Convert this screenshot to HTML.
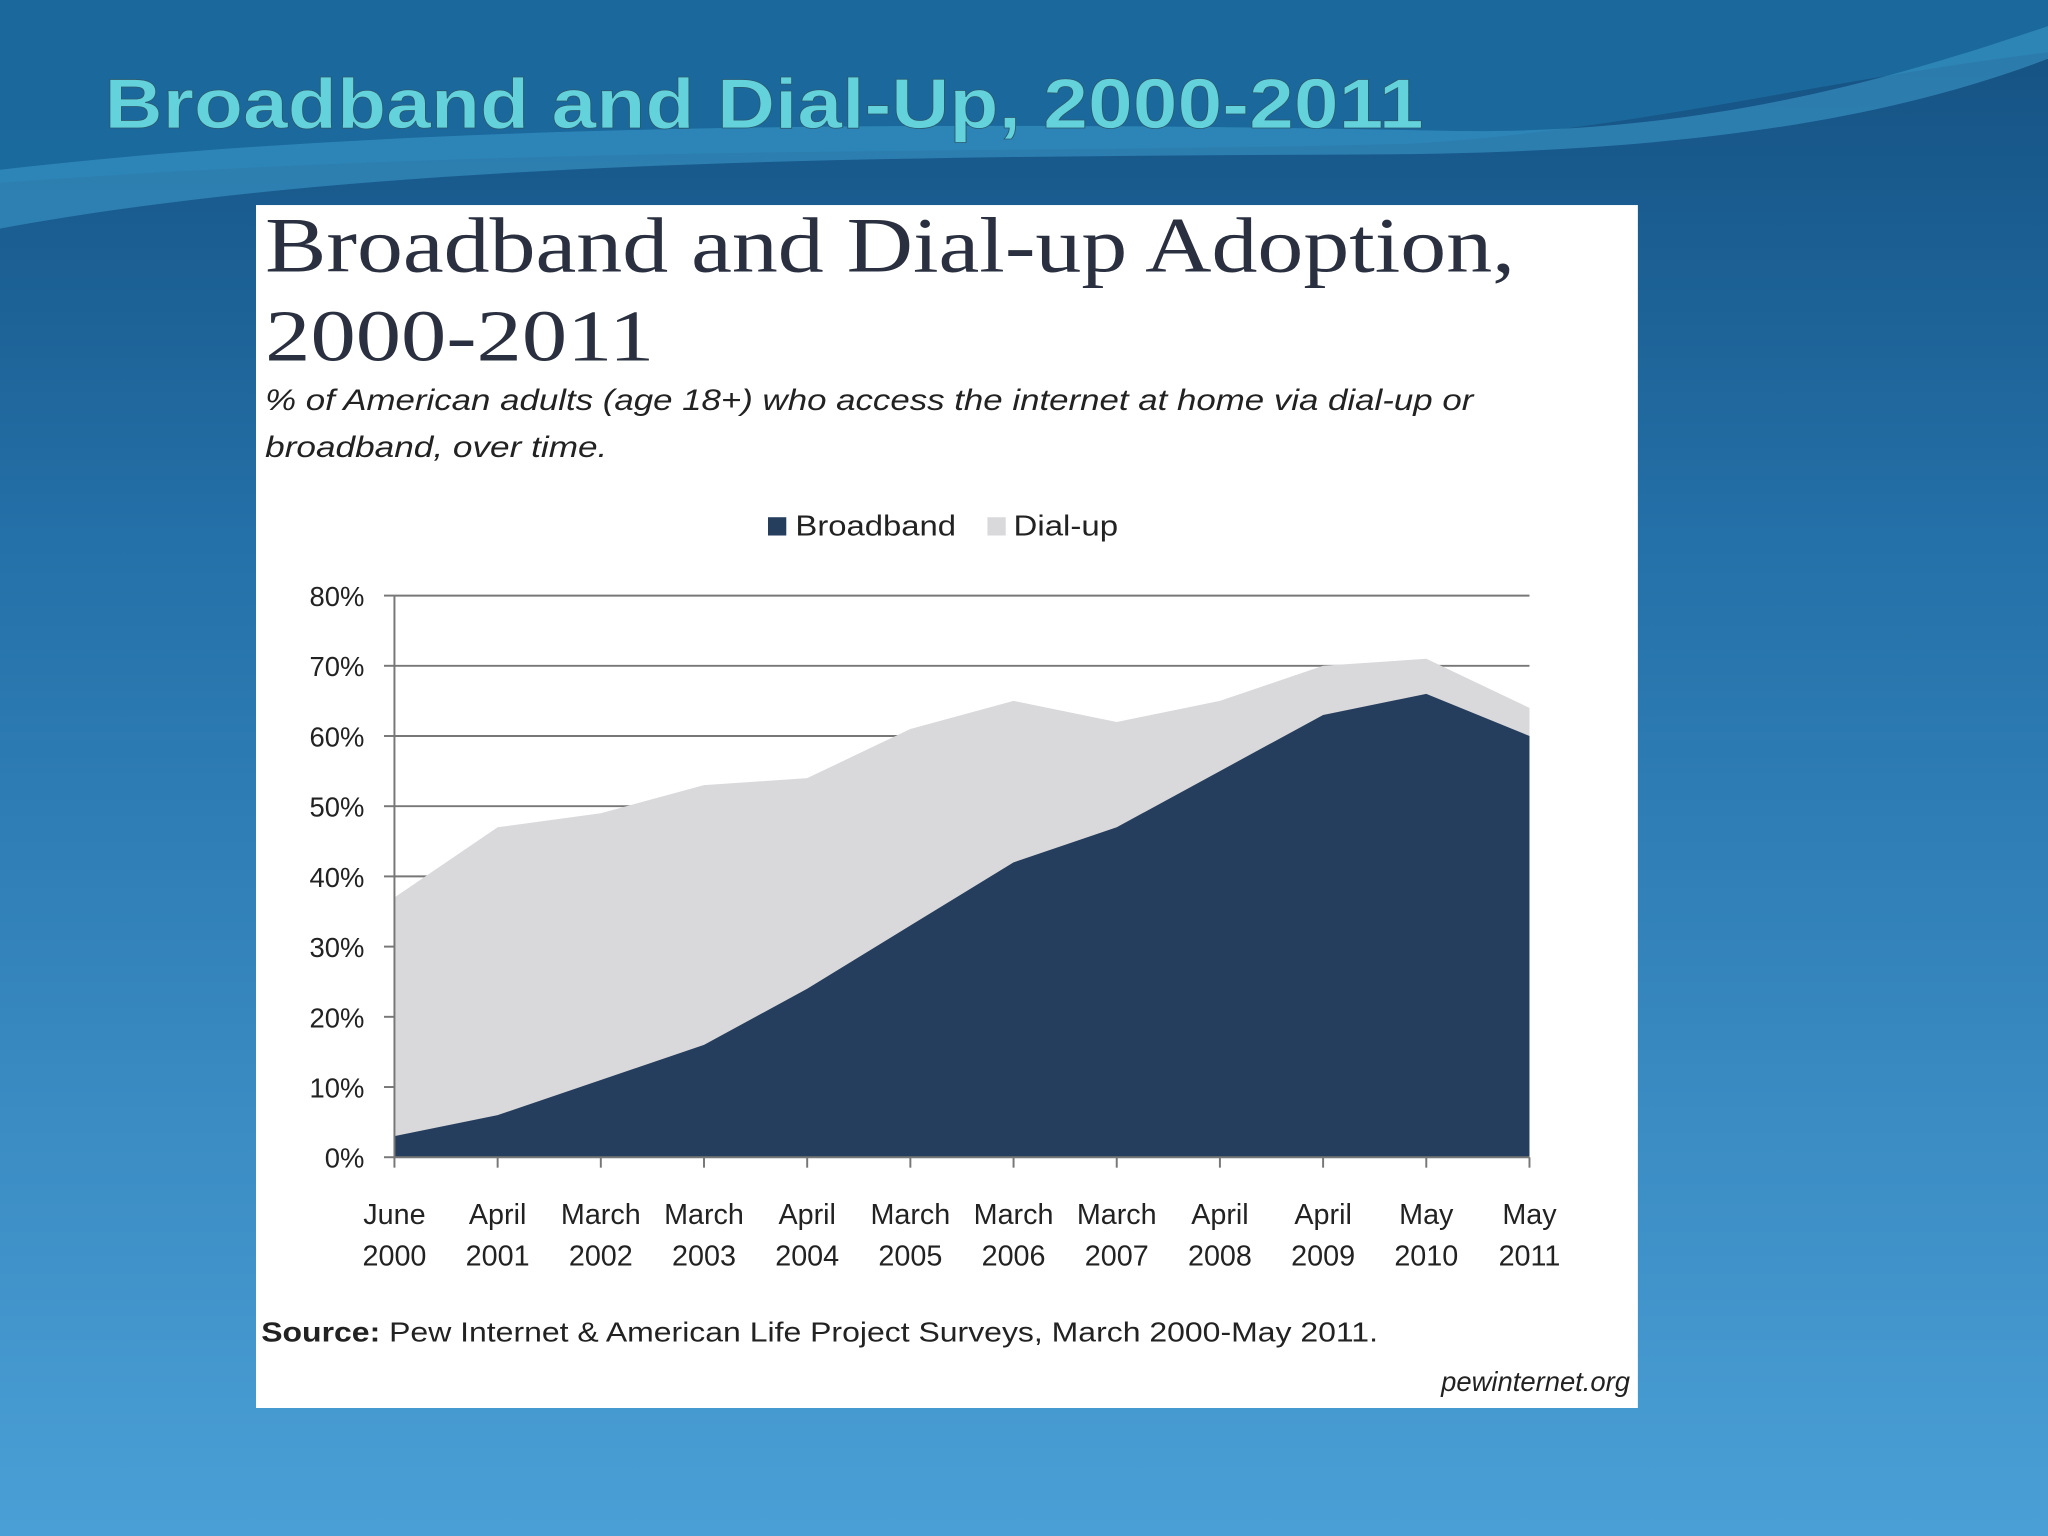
<!DOCTYPE html>
<html><head><meta charset="utf-8"><style>
html,body{margin:0;padding:0;background:#1d5f90;}
svg{display:block;}
</style></head><body>
<svg width="2048" height="1536" viewBox="0 0 1568 1176" xmlns="http://www.w3.org/2000/svg">
<defs>
<linearGradient id="bg" x1="0" y1="0" x2="0" y2="1">
<stop offset="0" stop-color="#145080"/><stop offset="0.35" stop-color="#2470a8"/><stop offset="1" stop-color="#4aa0d6"/>
</linearGradient>
</defs>
<rect x="0" y="0" width="1568" height="1176" fill="url(#bg)"/>
<path d="M0,0 H1568 V40 C1400,60 1250,100 1080,110 C800,118 400,110 0,140 Z" fill="#1c6b9e" opacity="0.9"/>
<path d="M0,130 C300,95 700,92 1100,100 C1300,105 1450,60 1568,20 V45 C1450,90 1300,115 1080,118 C700,120 300,120 0,175 Z" fill="#3a98c8" opacity="0.6"/>
<text x="80" y="98" textLength="1010" lengthAdjust="spacingAndGlyphs" font-family="Liberation Sans, sans-serif" font-weight="bold" font-size="54" fill="#63d2da" stroke="#2a5a70" stroke-width="0.6">Broadband and Dial-Up, 2000-2011</text>
<rect x="196" y="157" width="1058" height="921" fill="#ffffff"/>
<text x="203" y="208" textLength="957" lengthAdjust="spacingAndGlyphs" font-family="Liberation Serif, serif" font-size="60" fill="#2a3040">Broadband and Dial-up Adoption,</text>
<text x="203" y="276" textLength="298" lengthAdjust="spacingAndGlyphs" font-family="Liberation Serif, serif" font-size="56" fill="#2a3040">2000-2011</text>
<text font-family="Liberation Sans, sans-serif" font-style="italic" font-size="23" fill="#222"><tspan x="203" y="314" textLength="925" lengthAdjust="spacingAndGlyphs">% of American adults (age 18+) who access the internet at home via dial-up or</tspan><tspan x="203" y="350" textLength="262" lengthAdjust="spacingAndGlyphs">broadband, over time.</tspan></text>
<g font-family="Liberation Sans, sans-serif" font-size="22" fill="#222">
<rect x="588" y="396" width="14" height="14" fill="#263e5e"/>
<text x="609" y="410" textLength="123" lengthAdjust="spacingAndGlyphs">Broadband</text>
<rect x="756" y="396" width="14" height="14" fill="#d9d9dc"/>
<text x="776" y="410" textLength="80" lengthAdjust="spacingAndGlyphs">Dial-up</text>
</g>
<g id="plot"></g>
<text x="200" y="1027" textLength="855" lengthAdjust="spacingAndGlyphs" font-family="Liberation Sans, sans-serif" font-size="21" fill="#222"><tspan font-weight="bold">Source:</tspan> Pew Internet &amp; American Life Project Surveys, March 2000-May 2011.</text>
<text x="1248" y="1065" text-anchor="end" font-family="Liberation Sans, sans-serif" font-style="italic" font-size="21" fill="#222">pewinternet.org</text>
</svg>
<script>
const categories=[["June","2000"],["April","2001"],["March","2002"],["March","2003"],["April","2004"],["March","2005"],["March","2006"],["March","2007"],["April","2008"],["April","2009"],["May","2010"],["May","2011"]];
const broadband=[3,6,11,16,24,33,42,47,55,63,66,60];
const dialup=[34,41,38,37,30,28,23,15,10,7,5,4];
const yTicks=[0,10,20,30,40,50,60,70,80];
const NS="http://www.w3.org/2000/svg";
const plotG=document.getElementById('plot');
const x0=302,x1=1171,y0=886,y80=456;
const xs=i=>x0+(x1-x0)*i/(categories.length-1);
const ys=v=>y0-(y0-y80)*v/80;
function mk(t,a){const e=document.createElementNS(NS,t);for(const k in a)e.setAttribute(k,a[k]);plotG.appendChild(e);return e;}
yTicks.forEach(v=>{
  if(v>0){const l=mk('line',{x1:x0,x2:x1,y1:ys(v),y2:ys(v),stroke:'#777','stroke-width':1.5});
  
  }
  const tk=mk('line',{x1:x0-8,x2:x0,y1:ys(v),y2:ys(v),stroke:'#777','stroke-width':1.5});
  
  
  const t=mk('text',{x:279,y:ys(v)+8,'text-anchor':'end','font-family':'Liberation Sans, sans-serif','font-size':21,fill:'#222'});
  t.textContent=v+'%';
  
  
});
let topPath='',botPath='';
categories.forEach((c,i)=>{topPath+=(i?'L':'M')+xs(i)+','+ys(broadband[i]+dialup[i]);});
const dp=mk('path',{d:topPath+'L'+x1+','+y0+'L'+x0+','+y0+'Z',fill:'#d9d9dc'});


categories.forEach((c,i)=>{botPath+=(i?'L':'M')+xs(i)+','+ys(broadband[i]);});
const bp=mk('path',{d:botPath+'L'+x1+','+y0+'L'+x0+','+y0+'Z',fill:'#263e5e'});


const ax=mk('line',{x1:x0,x2:x0,y1:y80,y2:y0,stroke:'#777','stroke-width':1.5});


const bx=mk('line',{x1:x0,x2:x1,y1:y0,y2:y0,stroke:'#777','stroke-width':1.5});


categories.forEach((c,i)=>{
  const tk=mk('line',{x1:xs(i),x2:xs(i),y1:y0,y2:y0+8,stroke:'#777','stroke-width':1.5});
  
  
  const t=mk('text',{x:xs(i),'text-anchor':'middle','font-family':'Liberation Sans, sans-serif','font-size':22,fill:'#222'});
  
  
  const a=document.createElementNS(NS,'tspan');a.setAttribute('x',xs(i));a.setAttribute('y',937);a.textContent=c[0];t.appendChild(a);
  const b=document.createElementNS(NS,'tspan');b.setAttribute('x',xs(i));b.setAttribute('y',969);b.textContent=c[1];t.appendChild(b);
});
</script>
</body></html>
